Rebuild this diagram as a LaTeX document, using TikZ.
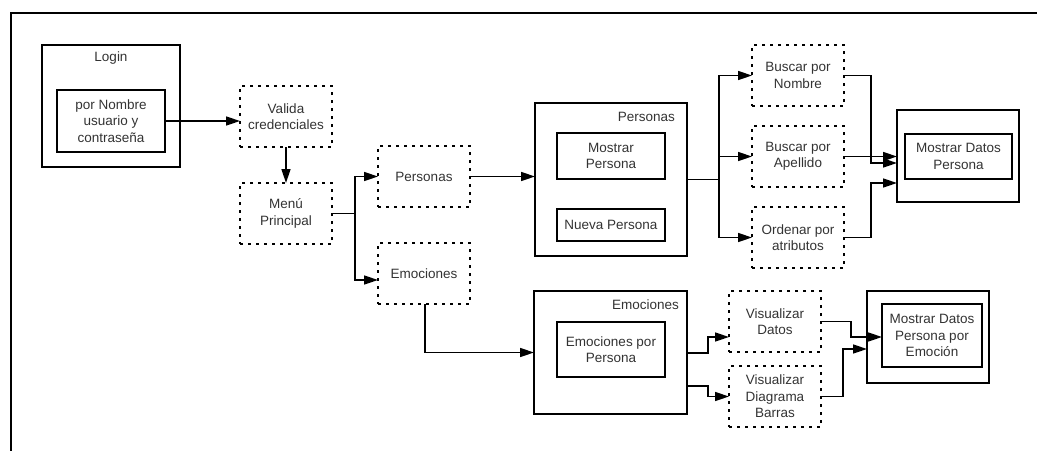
\documentclass[tikz,border=0pt]{standalone}
\usepackage{fontspec}
\setmainfont{Liberation Sans}
\usetikzlibrary{arrows.meta}
\definecolor{txt}{HTML}{333333}
\begin{document}
\begin{tikzpicture}[x=1pt,y=-1pt,
  every node/.style={font=\fontsize{13.5}{16.5}\selectfont, text=txt, align=center, inner sep=0pt, outer sep=0pt},
  solidbox/.style={draw=black, line width=1.6pt},
  dotbox/.style={draw=black, line width=1.6pt, dash pattern=on 3pt off 5pt, minimum width=92pt, minimum height=61pt},
  conn/.style={line width=1.6pt, draw=black},
  arr/.style={conn, -{Triangle[length=14pt,width=9pt]}},
  boxlabel/.style={anchor=east}
]
\useasboundingbox (0,0) rectangle (1037,451);

% frame
\coordinate (frameTL) at (11,13);
\coordinate (frameTR) at (1037,13);
\coordinate (frameBL) at (11,451);
\draw[line width=2pt] (frameTR) -- (frameTL) -- (frameBL);

% login block
\node[solidbox, minimum width=138pt, minimum height=122pt] (login) at (111,106) {};
\node (loginlbl) at (111,58) {Login};
\node[solidbox, minimum width=108pt, minimum height=62pt] (cred) at (111,121) {por Nombre\\usuario y\\contraseña};

% process steps
\node[dotbox] (valida) at (286,116.5) {Valida\\credenciales};
\node[dotbox] (menu) at (286,213.5) {Menú\\Principal};
\node[dotbox] (personasOpt) at (424,176.5) {Personas};
\node[dotbox] (emocionesOpt) at (424,273.5) {Emociones};

% Personas module
\node[solidbox, minimum width=152pt, minimum height=153pt] (personasBox) at (611,179.5) {};
\node[boxlabel] (personasLbl) at (675,117) {Personas};
\node[solidbox, minimum width=108pt, minimum height=46pt] (mostrarPersona) at (611,156) {Mostrar\\Persona};
\node[solidbox, minimum width=108pt, minimum height=32pt] (nuevaPersona) at (611,225) {Nueva Persona};

\node[dotbox] (buscarNombre) at (798,75.5) {Buscar por\\Nombre};
\node[dotbox] (buscarApellido) at (798,156.5) {Buscar por\\Apellido};
\node[dotbox] (ordenar) at (798,237.5) {Ordenar por\\atributos};

\node[solidbox, minimum width=122pt, minimum height=92pt] (mdpOuter) at (958,156) {};
\node[solidbox, minimum width=107pt, minimum height=45pt] (mdpInner) at (958.5,156.5) {Mostrar Datos\\Persona};

% Emociones module
\node[solidbox, minimum width=153pt, minimum height=123pt] (emocionesBox) at (610.5,352.5) {};
\node[boxlabel] (emocionesLbl) at (679,305) {Emociones};
\node[solidbox, minimum width=108pt, minimum height=55pt] (emoPorPersona) at (611,349.5) {Emociones por\\Persona};

\node[dotbox] (visDatos) at (775,321.5) {Visualizar\\Datos};
\node[dotbox] (visDiagrama) at (775,396.5) {Visualizar\\Diagrama\\Barras};

\node[solidbox, minimum width=122pt, minimum height=92pt] (mdpeOuter) at (928,337) {};
\node[solidbox, minimum width=100pt, minimum height=63pt] (mdpeInner) at (932,335.5) {Mostrar Datos\\Persona por\\Emoción};

% connectors
\draw[arr] (cred.east) -- (cred.east -| valida.west);
\draw[arr] (valida) -- (menu);

\draw[conn] (menu.east) -- ++(23,0) coordinate (menuJ);
\draw[arr] (menuJ) |- (personasOpt.west);
\draw[arr] (menuJ) |- ([yshift=-6.5pt]emocionesOpt.west);

\draw[arr] (personasOpt.east) -- (personasOpt.east -| personasBox.west);
\draw[arr] ([xshift=1pt]emocionesOpt.south) |- (emocionesBox.west);

\draw[conn] (personasBox.east) -- ++(32,0) coordinate (persJ);
\draw[arr] (persJ) |- (buscarNombre.west);
\draw[arr] (persJ) |- (buscarApellido.west);
\draw[arr] (persJ) |- (ordenar.west);

\draw[arr] (buscarNombre.east) -- ++(27,0) |- ([yshift=-7pt]mdpOuter.west);
\draw[arr] (buscarApellido.east) -- (buscarApellido.east -| mdpOuter.west);
\draw[arr] (ordenar.east) -- ++(27,0) |- ([yshift=-27pt]mdpOuter.west);

\draw[arr] ([yshift=-0.5pt]emocionesBox.east) -- ++(21,0) |- ([yshift=-15.5pt]visDatos.west);
\draw[arr] ([yshift=-33.5pt]emocionesBox.east) -- ++(21,0) |- (visDiagrama.west);

\draw[arr] (visDatos.east) -- ++(30,0) |- ([yshift=-1.5pt]mdpeInner.west);
\draw[arr] (visDiagrama.east) -- ++(22,0) |- ([yshift=-12pt]mdpeOuter.west);
\end{tikzpicture}
\end{document}
